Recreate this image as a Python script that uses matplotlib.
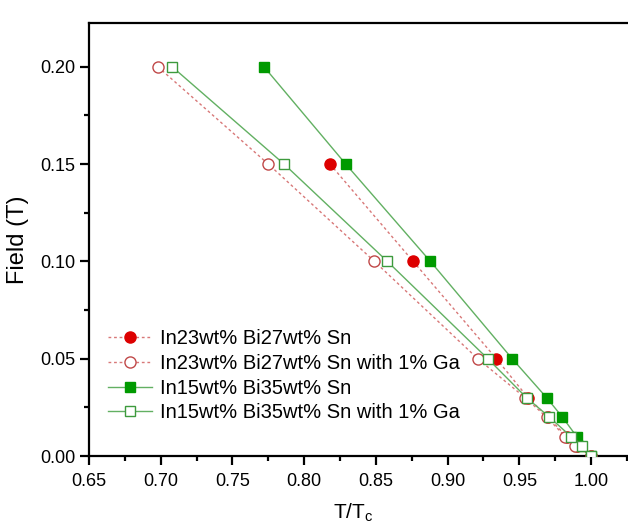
import matplotlib
matplotlib.use("Agg")
import matplotlib.pyplot as plt
from matplotlib.ticker import MultipleLocator

plt.rcParams['font.family'] = ['Liberation Sans', 'DejaVu Sans']

# data
field = [0.20, 0.15, 0.10, 0.05, 0.03, 0.02, 0.01, 0.005, 0.0]

t_in23 = [0.818, 0.876, 0.934, 0.956, 0.970, 0.983, 0.990, 1.000]
f_in23 = field[1:]
t_in23_ga = [0.698, 0.775, 0.849, 0.921, 0.954, 0.969, 0.982, 0.989, 1.000]
t_in15 = [0.772, 0.829, 0.888, 0.945, 0.969, 0.980, 0.990, 0.991, 1.000]
t_in15_ga = [0.708, 0.786, 0.858, 0.928, 0.955, 0.971, 0.986, 0.994, 1.000]

labels = ["In23wt% Bi27wt% Sn",
          "In23wt% Bi27wt% Sn with 1% Ga",
          "In15wt% Bi35wt% Sn",
          "In15wt% Bi35wt% Sn with 1% Ga"]

red = "#dd0000"
red_line = "#d87878"
green = "#009a00"
green_line = "#62b062"

fig = plt.figure(figsize=(6.28, 5.25), dpi=100)
ax = fig.add_axes([0.1417, 0.1314, 0.868, 0.8248])

ax.plot(t_in23, f_in23, ls=(0, (2, 2)), lw=1.0, color=red_line,
        marker="o", ms=8, mfc=red, mec=red, label=labels[0], zorder=2)
ax.plot(t_in15, field, ls="-", lw=1.0, color=green_line,
        marker="s", ms=7.5, mfc=green, mec=green, label=labels[2], zorder=2)
ax.plot(t_in23_ga, field, ls=(0, (2, 2)), lw=1.0, color=red_line,
        marker="o", ms=8, mfc="white", mec="#c04848", mew=1.0, label=labels[1], zorder=3)
ax.plot(t_in15_ga, field, ls="-", lw=1.0, color=green_line,
        marker="s", ms=7.5, mfc="white", mec="#3d9a3d", mew=1.0, label=labels[3], zorder=3)

ax.set_xlim(0.65, 1.03)
ax.set_ylim(0, 0.2225)
ax.xaxis.set_major_locator(MultipleLocator(0.05))
ax.xaxis.set_minor_locator(MultipleLocator(0.025))
ax.yaxis.set_major_locator(MultipleLocator(0.05))
ax.yaxis.set_minor_locator(MultipleLocator(0.025))
ax.xaxis.set_major_formatter(plt.FormatStrFormatter("%.2f"))
ax.yaxis.set_major_formatter(plt.FormatStrFormatter("%.2f"))

for s in ax.spines.values():
    s.set_linewidth(1.6)
ax.tick_params(which="major", direction="out", length=6.5, width=1.6,
               labelsize=13, top=False, right=False)
ax.tick_params(axis="x", which="major", pad=6)
ax.tick_params(which="minor", direction="out", length=3.5, width=1.6,
               top=False, right=False)

ax.set_xlabel("T/T$_\\mathregular{c}$", fontsize=15)
ax.xaxis.set_label_coords(0.485, -0.105)
ax.set_ylabel("Field (T)", fontsize=17, labelpad=8)

h, l = ax.get_legend_handles_labels()
order = [0, 2, 1, 3]
ax.legend([h[i] for i in order], [l[i] for i in order],
          loc="lower left", bbox_to_anchor=(0.012, 0.05), frameon=False,
          fontsize=14.5, handlelength=2.2, handletextpad=0.4,
          labelspacing=0.28, borderaxespad=0.2)

fig.savefig("out.png", dpi=100)
